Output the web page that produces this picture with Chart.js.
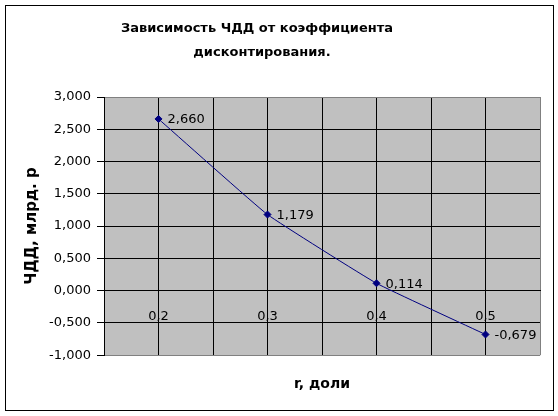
<!DOCTYPE html>
<html>
<head>
<meta charset="utf-8">
<script src="https://cdn.jsdelivr.net/npm/chart.js@4"></script>
<style>
  body { margin: 0; background: #fff; }
</style>
</head>
<body>
<canvas id="npvChart" width="558" height="416"></canvas>
<script>
// r, доли
var rValues = [0.2, 0.3, 0.4, 0.5];
// ЧДД, млрд. р
var npvValues = [2.660, 1.179, 0.114, -0.679];
var yMin = -1, yMax = 3, yStep = 0.5;
var xMin = 0.15, xMax = 0.55, xStep = 0.05;
var titleLines = ["Зависимость ЧДД от коэффициента", "дисконтирования."];

function fmt(v, d) {
  return v.toFixed(d).replace(".", ",");
}

var points = rValues.map(function (r, i) {
  return { x: r, y: npvValues[i] };
});

// white page, outer frame and grey plot area
var framePlugin = {
  id: "frame",
  beforeDraw: function (chart) {
    var ctx = chart.ctx;
    var a = chart.chartArea;
    ctx.save();
    ctx.fillStyle = "#fff";
    ctx.fillRect(0, 0, chart.width, chart.height);
    ctx.strokeStyle = "#000";
    ctx.lineWidth = 1;
    ctx.strokeRect(5.5, 5.5, 548, 405);
    ctx.fillStyle = "#c0c0c0";
    ctx.fillRect(a.left, a.top, a.right - a.left, a.bottom - a.top);
    ctx.restore();
  },
  afterDraw: function (chart) {
    var ctx = chart.ctx;
    ctx.save();
    ctx.fillStyle = "#000";
    ctx.font = "bold 13px 'DejaVu Sans'";
    ctx.textAlign = "center";
    ctx.textBaseline = "middle";
    ctx.fillText(titleLines[0], 257, 29);
    ctx.fillText(titleLines[1], 262, 53);
    ctx.restore();
  }
};

// value labels to the right of each point
var valueLabels = {
  id: "valueLabels",
  afterDatasetsDraw: function (chart) {
    var ctx = chart.ctx;
    var meta = chart.getDatasetMeta(0);
    ctx.save();
    ctx.fillStyle = "#000";
    ctx.font = "13px 'DejaVu Sans'";
    ctx.textAlign = "left";
    ctx.textBaseline = "middle";
    meta.data.forEach(function (pt, i) {
      ctx.fillText(fmt(npvValues[i], 3), pt.x + 9, pt.y + 1);
    });
    ctx.restore();
  }
};

function isEdge(v, edge) {
  return Math.abs(v - edge) < 1e-6;
}

var ctx = document.getElementById("npvChart").getContext("2d");
var npvChart = new Chart(ctx, {
  type: "line",
  data: {
    datasets: [
      {
        data: points,
        borderColor: "#000080",
        borderWidth: 1,
        tension: 0.1,
        pointStyle: "rectRot",
        pointRadius: 3.5,
        pointBackgroundColor: "#000080",
        pointBorderColor: "#000080",
        pointBorderWidth: 1
      }
    ]
  },
  options: {
    responsive: false,
    animation: false,
    layout: { padding: { left: 0, right: 16, top: 97, bottom: 0 } },
    plugins: {
      legend: { display: false },
      tooltip: { enabled: false },
      title: { display: false },
      subtitle: {
        display: true,
        position: "bottom",
        fullSize: false,
        text: "r, доли",
        color: "#000",
        font: { family: "DejaVu Sans", size: 14, weight: "bold" },
        padding: { top: 21, bottom: 23 }
      }
    },
    scales: {
      x: {
        type: "linear",
        position: { y: 0 },
        min: xMin,
        max: xMax,
        afterFit: function (scale) {
          scale.height = 0;
        },
        ticks: {
          stepSize: xStep,
          padding: 18,
          color: "#000",
          font: { family: "DejaVu Sans", size: 13 },
          maxRotation: 0,
          autoSkip: false,
          callback: function (v) {
            var t = Math.round(v * 10) / 10;
            return Math.abs(v - t) < 1e-6 ? fmt(t, 1) : "";
          }
        },
        grid: {
          drawTicks: false,
          lineWidth: 1,
          color: function (c) {
            return c.tick && isEdge(c.tick.value, xMax) ? "#808080" : "#000";
          }
        },
        border: { display: true, color: "#000", width: 1 }
      },
      y: {
        min: yMin,
        max: yMax,
        afterFit: function (scale) {
          scale.width = 104;
        },
        ticks: {
          stepSize: yStep,
          padding: 6,
          color: "#000",
          font: { family: "DejaVu Sans", size: 13 },
          callback: function (v) {
            return fmt(v, 3);
          }
        },
        grid: {
          tickLength: 7,
          tickColor: "#000",
          lineWidth: 1,
          color: function (c) {
            if (!c.tick) return "#000";
            return isEdge(c.tick.value, yMax) || isEdge(c.tick.value, yMin) ? "#808080" : "#000";
          }
        },
        border: { display: true, color: "#000", width: 1 },
        title: {
          display: true,
          text: "ЧДД, млрд. р",
          color: "#000",
          font: { family: "DejaVu Sans", size: 15, weight: "bold" },
          padding: { top: 23, bottom: 0 }
        }
      }
    }
  },
  plugins: [framePlugin, valueLabels]
});
</script>
</body>
</html>
